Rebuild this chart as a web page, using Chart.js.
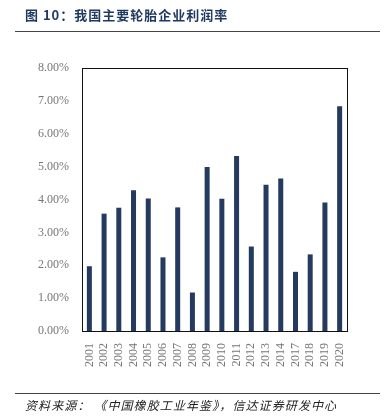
<!DOCTYPE html>
<html>
<head>
<meta charset="utf-8">
<script src="https://cdn.jsdelivr.net/npm/chart.js@4/dist/chart.umd.min.js"></script>
<style>
  body { margin: 0; background: #fff; }
  #wrap { position: relative; width: 384px; height: 416px; }
  #title { position: absolute; left: 25px; top: 5px; font: bold 13px "Noto Sans CJK SC"; letter-spacing: 1px; color: #1f3a60; white-space: nowrap; }
  #line1 { position: absolute; left: 15px; top: 31px; width: 365px; height: 1px; background: #444; }
  #line2 { position: absolute; left: 15px; top: 393px; width: 365px; height: 1px; background: #444; }
  #src { position: absolute; left: 25px; top: 396px; font: italic 12px "Noto Sans CJK SC"; letter-spacing: 1.1px; color: #222; white-space: nowrap; }
  canvas { position: absolute; left: 0; top: 0; }
</style>
</head>
<body>
<div id="wrap">
  <canvas id="c" width="384" height="416"></canvas>
  <div id="title">图 10：我国主要轮胎企业利润率</div>
  <div id="line1"></div>
  <div id="line2"></div>
  <div id="src">资料来源：&nbsp;《中国橡胶工业年鉴》，信达证券研发中心</div>
</div>
<script>
const years = ['2001','2002','2003','2004','2005','2006','2007','2008','2009','2010','2011','2012','2013','2014','2017','2018','2019','2020'];
const profitRate = [1.97, 3.57, 3.75, 4.28, 4.03, 2.24, 3.76, 1.17, 4.99, 4.02, 5.32, 2.57, 4.45, 4.64, 1.80, 2.33, 3.91, 6.84];

const boxPlugin = {
  id: 'box',
  afterDraw(chart) {
    const a = chart.chartArea, ctx = chart.ctx;
    ctx.save();
    ctx.strokeStyle = '#111';
    ctx.lineWidth = 1;
    ctx.strokeRect(Math.round(a.left) + 0.5, Math.round(a.top) + 0.5, Math.round(a.right - a.left), Math.round(a.bottom - a.top));
    ctx.restore();
  }
};

new Chart(document.getElementById('c').getContext('2d'), {
  type: 'bar',
  data: {
    labels: years,
    datasets: [{
      data: profitRate,
      backgroundColor: '#243a5e',
      barPercentage: 0.34,
      categoryPercentage: 1
    }]
  },
  options: {
    responsive: false,
    animation: false,
    layout: { padding: { left: 0, right: 37, top: 68, bottom: 0 } },
    plugins: { legend: { display: false }, tooltip: { enabled: false } },
    scales: {
      x: {
        grid: { display: false },
        border: { display: false },
        ticks: {
          autoSkip: false,
          minRotation: 90, maxRotation: 90,
          color: '#777',
          padding: 4,
          font: { family: 'Liberation Serif', size: 12 }
        },
        afterFit(s) { s.height = 85; }
      },
      y: {
        min: 0, max: 8,
        grid: { display: false },
        border: { display: false },
        ticks: {
          stepSize: 1,
          color: '#777',
          padding: 5,
          font: { family: 'Liberation Serif', size: 12 },
          callback: v => v.toFixed(2) + '%'
        },
        afterFit(s) { s.width = 82; }
      }
    }
  },
  plugins: [boxPlugin]
});
</script>
</body>
</html>
